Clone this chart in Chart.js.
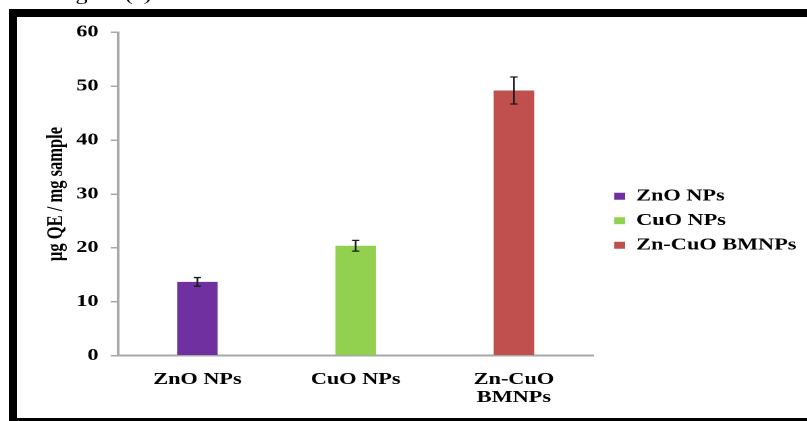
<!DOCTYPE html>
<html>
<head>
<meta charset="utf-8">
<script src="https://cdn.jsdelivr.net/npm/chart.js@4.4.1/dist/chart.umd.min.js"></script>
<style>
  html, body { margin: 0; padding: 0; background: #fff; overflow: hidden; }
  body { width: 807px; height: 421px; position: relative; }
  /* the source picture is stretched sideways, so draw narrow and widen it */
  #stage { position: absolute; left: 0; top: 0; width: 598px; height: 421px; transform: scaleX(1.35); transform-origin: 0 0; }
  #cap { position: absolute; left: 41px; top: -15px; font: 18px "Liberation Serif", serif; line-height: 18px; color: #000; white-space: nowrap; }
  #frame { position: absolute; left: 9px; top: 9px; width: 900px; height: 417px; box-sizing: border-box; border: 8px solid #000; border-right: none; pointer-events: none; }
</style>
</head>
<body>
<div id="stage">
  <span id="cap">Figure (c)</span>
  <canvas id="qeChart"></canvas>
</div>
<div id="frame"></div>
<script>
const categories = ['ZnO NPs', 'CuO NPs', 'Zn-CuO BMNPs'];
const qeValues = [13.7, 20.4, 49.2];
const qeErrors = [0.8, 1.0, 2.5];
const barColors = ['#7030A0', '#92D050', '#C0504D'];

const serif = '"Liberation Serif", "Times New Roman", serif';
const boldFont = { family: serif, size: 16.5, weight: 'bold' };

// error bars drawn on top of each bar
const errorBars = {
    id: 'errorBars',
    afterDatasetsDraw(chart) {
        const ctx = chart.ctx;
        const y = chart.scales.y;
        const meta = chart.getDatasetMeta(0);
        ctx.save();
        ctx.strokeStyle = '#1a1a1a';
        ctx.lineWidth = 1.3;
        meta.data.forEach((bar, i) => {
            const top = y.getPixelForValue(qeValues[i] + qeErrors[i]);
            const bot = y.getPixelForValue(qeValues[i] - qeErrors[i]);
            ctx.beginPath();
            ctx.moveTo(bar.x, top);
            ctx.lineTo(bar.x, bot);
            ctx.moveTo(bar.x - 2.7, top);
            ctx.lineTo(bar.x + 2.7, top);
            ctx.moveTo(bar.x - 2.7, bot);
            ctx.lineTo(bar.x + 2.7, bot);
            ctx.stroke();
        });
        ctx.restore();
    }
};

// put the legend to the right of the plot, like the original
const legendSpot = {
    id: 'legendSpot',
    afterLayout(chart) {
        const lg = chart.legend;
        lg.left = 447; lg.right = 598; lg.width = 151;
        lg.top = 180; lg.bottom = 312; lg.height = 132;
    }
};

const ctx = document.getElementById('qeChart').getContext('2d');
const qeChart = new Chart(ctx, {
    type: 'bar',
    data: {
        labels: categories,
        datasets: [{
            label: 'µg QE / mg sample',
            data: qeValues,
            backgroundColor: barColors,
            borderWidth: 0,
            categoryPercentage: 1,
            barPercentage: 0.256
        }]
    },
    options: {
        responsive: true,
        maintainAspectRatio: false,
        animation: false,
        devicePixelRatio: 2,
        layout: {
            padding: { left: 24, top: 32.3, right: 158.7, bottom: 15.3 }
        },
        scales: {
            x: {
                grid: { display: false, drawTicks: false },
                border: { color: '#a8a8a8', width: 2 },
                ticks: {
                    color: '#000',
                    padding: 15,
                    font: { family: serif, size: 16.5, weight: 'bold', lineHeight: 1.1 },
                    callback: function(value) {
                        const l = this.getLabelForValue(value);
                        return l.length > 8 ? l.split(' ') : l;
                    }
                },
                afterFit(scale) { scale.height = 50; }
            },
            y: {
                min: 0,
                max: 60,
                ticks: { stepSize: 10, padding: 9, color: '#000', font: boldFont },
                grid: { drawOnChartArea: false, drawTicks: true, tickLength: 5.6, color: '#a8a8a8', lineWidth: 1.5 },
                border: { color: '#a8a8a8', width: 2 },
                title: {
                    display: true,
                    text: 'µg QE / mg sample',
                    color: '#000',
                    font: boldFont,
                    padding: { top: 8, bottom: 0 }
                },
                afterFit(scale) { scale.width = 63.6; }
            }
        },
        plugins: {
            tooltip: { enabled: false },
            legend: {
                position: 'chartArea',
                align: 'start',
                onClick: null,
                labels: {
                    boxWidth: 8,
                    boxHeight: 7,
                    padding: 8,
                    color: '#000',
                    font: boldFont,
                    generateLabels: () => categories.map((c, i) => ({
                        text: c,
                        fillStyle: barColors[i],
                        strokeStyle: barColors[i],
                        lineWidth: 0,
                        hidden: false,
                        index: i
                    }))
                }
            }
        }
    },
    plugins: [errorBars, legendSpot]
});
</script>
</body>
</html>
